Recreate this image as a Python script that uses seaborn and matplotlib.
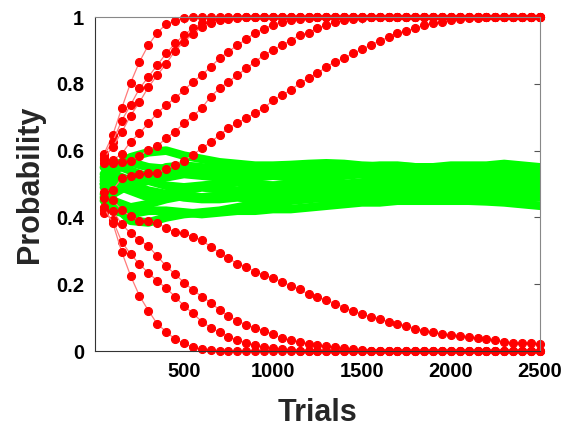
import numpy as np
import pandas as pd
import matplotlib
matplotlib.use("Agg")
import matplotlib.pyplot as plt
import seaborn as sns

# trials sampled every 50 for the red (fixating) runs
trials_red = np.arange(50, 2501, 50)
# green (non-fixating) runs, sampled coarser
trials_green = [50, 100, 200, 300, 400, 500, 600, 700, 800, 900, 1000, 1100, 1200,
                1300, 1400, 1500, 1600, 1700, 1800, 1900, 2000, 2100, 2200, 2300, 2400, 2500]

red_a = [0.59, 0.647, 0.727, 0.803, 0.866, 0.916, 0.953, 0.979, 0.989, 0.997,
         1, 1, 1, 1, 1, 1, 1, 1, 1, 1,
         1, 1, 1, 1, 1, 1, 1, 1, 1, 1,
         1, 1, 1, 1, 1, 1, 1, 1, 1, 1,
         1, 1, 1, 1, 1, 1, 1, 1, 1, 1]
red_b = [0.587, 0.627, 0.69, 0.737, 0.786, 0.821, 0.856, 0.891, 0.921, 0.946,
         0.966, 0.981, 0.99, 0.995, 0.998, 1, 1, 1, 1, 1,
         1, 1, 1, 1, 1, 1, 1, 1, 1, 1,
         1, 1, 1, 1, 1, 1, 1, 1, 1, 1,
         1, 1, 1, 1, 1, 1, 1, 1, 1, 1]
red_c = [0.577, 0.612, 0.655, 0.705, 0.745, 0.79, 0.826, 0.86, 0.899, 0.925,
         0.95, 0.97, 0.982, 0.99, 0.995, 0.998, 1, 1, 1, 1,
         1, 1, 1, 1, 1, 1, 1, 1, 1, 1,
         1, 1, 1, 1, 1, 1, 1, 1, 1, 1,
         1, 1, 1, 1, 1, 1, 1, 1, 1, 1]
red_d = [0.572, 0.572, 0.59, 0.627, 0.652, 0.682, 0.712, 0.737, 0.757, 0.781,
         0.806, 0.826, 0.851, 0.876, 0.896, 0.916, 0.933, 0.953, 0.964, 0.977,
         0.986, 0.99, 0.994, 0.997, 1, 1, 1, 1, 1, 1,
         1, 1, 1, 1, 1, 1, 1, 1, 1, 1,
         1, 1, 1, 1, 1, 1, 1, 1, 1, 1]
red_e = [0.562, 0.562, 0.565, 0.57, 0.584, 0.602, 0.614, 0.637, 0.657, 0.682,
         0.704, 0.727, 0.762, 0.786, 0.806, 0.826, 0.846, 0.866, 0.886, 0.901,
         0.916, 0.929, 0.946, 0.953, 0.966, 0.976, 0.984, 0.99, 0.994, 0.997,
         1, 1, 1, 1, 1, 1, 1, 1, 1, 1,
         1, 1, 1, 1, 1, 1, 1, 1, 1, 1]
red_f = [0.477, 0.482, 0.517, 0.524, 0.529, 0.532, 0.534, 0.544, 0.557, 0.57,
         0.587, 0.607, 0.625, 0.647, 0.667, 0.682, 0.697, 0.712, 0.727, 0.751,
         0.766, 0.781, 0.801, 0.816, 0.831, 0.851, 0.866, 0.876, 0.891, 0.903,
         0.916, 0.929, 0.939, 0.951, 0.959, 0.966, 0.976, 0.981, 0.986, 0.991,
         0.993, 0.996, 0.998, 1, 1, 1, 1, 1, 1, 1]
red_g = [0.457, 0.452, 0.422, 0.404, 0.39, 0.39, 0.384, 0.367, 0.357, 0.352,
         0.342, 0.332, 0.312, 0.294, 0.277, 0.262, 0.252, 0.237, 0.228, 0.218,
         0.208, 0.195, 0.185, 0.17, 0.162, 0.152, 0.142, 0.13, 0.12, 0.11,
         0.103, 0.097, 0.087, 0.081, 0.076, 0.067, 0.061, 0.056, 0.051, 0.048,
         0.046, 0.043, 0.038, 0.037, 0.033, 0.028, 0.024, 0.023, 0.023, 0.022]
red_h = [0.422, 0.42, 0.38, 0.352, 0.332, 0.314, 0.284, 0.254, 0.23, 0.205,
         0.183, 0.163, 0.145, 0.123, 0.105, 0.09, 0.078, 0.07, 0.06, 0.05,
         0.038, 0.033, 0.028, 0.022, 0.018, 0.014, 0.011, 0.008, 0.005, 0.003,
         0.001, 0, 0, 0, 0, 0, 0, 0, 0, 0,
         0, 0, 0, 0, 0, 0, 0, 0, 0, 0]
red_i = [0.413, 0.392, 0.327, 0.29, 0.26, 0.234, 0.21, 0.188, 0.163, 0.135,
         0.113, 0.088, 0.07, 0.056, 0.043, 0.033, 0.025, 0.018, 0.012, 0.008,
         0.005, 0.003, 0.001, 0, 0, 0, 0, 0, 0, 0,
         0, 0, 0, 0, 0, 0, 0, 0, 0, 0,
         0, 0, 0, 0, 0, 0, 0, 0, 0, 0]
red_j = [0.43, 0.383, 0.297, 0.225, 0.165, 0.121, 0.081, 0.058, 0.035, 0.023,
         0.011, 0.005, 0.002, 0, 0, 0, 0, 0, 0, 0,
         0, 0, 0, 0, 0, 0, 0, 0, 0, 0,
         0, 0, 0, 0, 0, 0, 0, 0, 0, 0,
         0, 0, 0, 0, 0, 0, 0, 0, 0, 0]

green_1 = [0.52, 0.55, 0.58, 0.595, 0.60, 0.585, 0.575, 0.565, 0.56, 0.555, 0.555, 0.557, 0.56,
           0.562, 0.56, 0.555, 0.553, 0.552, 0.55, 0.55, 0.549, 0.548, 0.548, 0.547, 0.546, 0.545]
green_2 = [0.50, 0.54, 0.565, 0.55, 0.545, 0.55, 0.545, 0.54, 0.535, 0.54, 0.545, 0.54, 0.535,
           0.53, 0.535, 0.54, 0.545, 0.54, 0.535, 0.535, 0.54, 0.54, 0.535, 0.535, 0.535, 0.535]
green_3 = [0.53, 0.56, 0.54, 0.52, 0.52, 0.53, 0.525, 0.52, 0.515, 0.52, 0.525, 0.52, 0.515,
           0.52, 0.525, 0.53, 0.525, 0.52, 0.52, 0.525, 0.52, 0.52, 0.525, 0.525, 0.52, 0.52]
green_4 = [0.49, 0.47, 0.50, 0.51, 0.495, 0.49, 0.495, 0.50, 0.505, 0.50, 0.495, 0.50, 0.505,
           0.505, 0.50, 0.505, 0.51, 0.505, 0.505, 0.51, 0.51, 0.51, 0.505, 0.505, 0.51, 0.51]
green_5 = [0.47, 0.50, 0.48, 0.46, 0.47, 0.48, 0.49, 0.485, 0.48, 0.49, 0.495, 0.49, 0.485,
           0.49, 0.49, 0.485, 0.49, 0.495, 0.495, 0.49, 0.495, 0.50, 0.50, 0.495, 0.495, 0.50]
green_6 = [0.46, 0.45, 0.43, 0.44, 0.455, 0.465, 0.46, 0.465, 0.47, 0.47, 0.475, 0.48, 0.475,
           0.475, 0.48, 0.48, 0.485, 0.48, 0.48, 0.485, 0.485, 0.485, 0.48, 0.485, 0.49, 0.49]
green_7 = [0.50, 0.44, 0.39, 0.385, 0.40, 0.41, 0.415, 0.42, 0.43, 0.44, 0.445, 0.45, 0.455,
           0.46, 0.465, 0.465, 0.47, 0.47, 0.475, 0.475, 0.47, 0.475, 0.475, 0.47, 0.47, 0.475]
green_8 = [0.45, 0.42, 0.41, 0.42, 0.42, 0.415, 0.41, 0.415, 0.42, 0.42, 0.425, 0.425, 0.43,
           0.435, 0.44, 0.445, 0.445, 0.45, 0.45, 0.45, 0.45, 0.45, 0.448, 0.445, 0.44, 0.435]
green_9 = [0.51, 0.52, 0.50, 0.48, 0.47, 0.46, 0.455, 0.455, 0.46, 0.455, 0.455, 0.46, 0.46,
           0.455, 0.455, 0.46, 0.46, 0.465, 0.46, 0.46, 0.46, 0.46, 0.465, 0.46, 0.46, 0.46]
green_10 = [0.55, 0.53, 0.51, 0.53, 0.55, 0.555, 0.55, 0.545, 0.55, 0.55, 0.545, 0.55, 0.55,
            0.545, 0.545, 0.55, 0.555, 0.555, 0.55, 0.55, 0.555, 0.555, 0.555, 0.56, 0.555, 0.55]

red_runs = [red_a, red_b, red_c, red_d, red_e, red_f, red_g, red_h, red_i, red_j]
green_runs = [green_1, green_2, green_3, green_4, green_5,
              green_6, green_7, green_8, green_9, green_10]

df_red = pd.concat([pd.DataFrame({"Trials": trials_red, "Probability": r, "run": k})
                    for k, r in enumerate(red_runs)])
df_green = pd.concat([pd.DataFrame({"Trials": trials_green, "Probability": g, "run": k})
                      for k, g in enumerate(green_runs)])

sns.set_style("white")
plt.rcParams["font.family"] = ["Liberation Sans", "DejaVu Sans"]
plt.rcParams["font.weight"] = "bold"

fig = plt.figure(figsize=(5.7, 4.34), dpi=100)
ax = fig.add_axes([0.1667, 0.1912, 0.7803, 0.7696])

sns.lineplot(data=df_green, x="Trials", y="Probability", hue="run",
             palette=["#00ff00"] * len(green_runs), linewidth=6.2,
             legend=False, estimator=None, ax=ax)
sns.lineplot(data=df_red, x="Trials", y="Probability", hue="run",
             palette=["#ff7a7a"] * len(red_runs), linewidth=0.9,
             marker="o", markersize=5.8, markerfacecolor="#ff0000",
             markeredgecolor="#ff0000", legend=False, estimator=None,
             clip_on=False, ax=ax)

ax.set_xlim(0, 2500)
ax.set_ylim(0, 1)
ax.set_xticks([500, 1000, 1500, 2000, 2500])
ax.set_yticks([0, 0.2, 0.4, 0.6, 0.8, 1])
ax.set_yticklabels(["0", "0.2", "0.4", "0.6", "0.8", "1"])
ax.tick_params(direction="in", length=4, width=0.8, color="#555555",
               top=True, right=True, labelsize=14.5, labelcolor="black", pad=8)
for lab in ax.get_xticklabels() + ax.get_yticklabels():
    lab.set_fontweight("bold")

for side in ["left", "bottom"]:
    ax.spines[side].set_color("#333333")
    ax.spines[side].set_linewidth(0.8)
for side in ["top", "right"]:
    ax.spines[side].set_color("#888888")
    ax.spines[side].set_linewidth(0.8)

ax.set_xlabel("Trials", fontsize=22, fontweight="bold", color="#262626", labelpad=12)
ax.set_ylabel("Probability", fontsize=22, fontweight="bold", color="#262626", labelpad=8)

fig.savefig("out.png", dpi=100)
